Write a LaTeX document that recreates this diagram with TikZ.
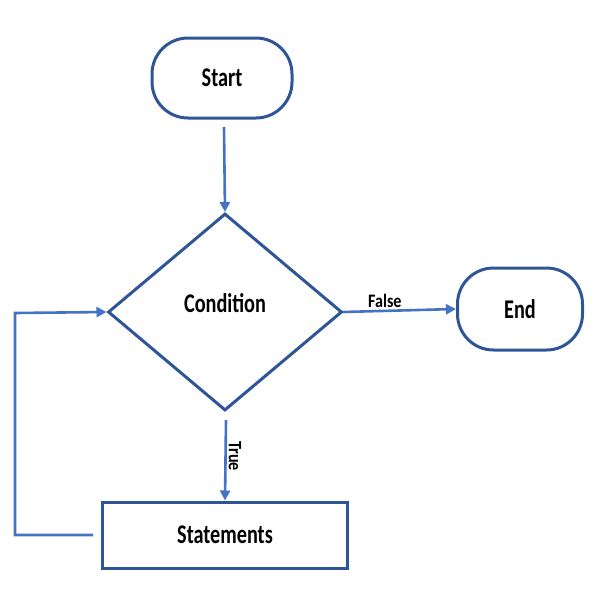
\documentclass[tikz,border=0pt]{standalone}
\usepackage{fontspec}
\setmainfont{Carlito}
\newfontfamily\narrowfont[FakeStretch=0.75]{Carlito}
\newfontfamily\labelfont[FakeStretch=0.85]{Carlito}
\usetikzlibrary{arrows.meta,shapes.geometric}
\definecolor{edgeblue}{HTML}{2F5597}
\definecolor{flowblue}{HTML}{4472C4}
\tikzset{
  bigtext/.style={font=\narrowfont\fontsize{27}{30}\selectfont\bfseries},
  terminal/.style={draw=edgeblue, line width=3pt, rounded corners=36pt,
    minimum width=140pt, minimum height=80pt, bigtext},
  decision/.style={draw=edgeblue, line width=3pt, diamond, aspect=1.2,
    minimum width=234pt, minimum height=197pt, inner sep=0pt},
  process/.style={draw=edgeblue, line width=3pt, rectangle,
    minimum width=245pt, minimum height=66pt, bigtext},
  flow/.style={draw=flowblue, line width=2.6pt, -{Triangle[length=10pt,width=10pt]}},
  lbl/.style={font=\labelfont\fontsize{19}{21}\selectfont\bfseries, inner sep=2pt}
}
\begin{document}
\begin{tikzpicture}[x=1pt,y=-1pt]
\useasboundingbox (0,0) rectangle (600,600);
\node[terminal] (start) at (222,78) {\raisebox{-2pt}{Start}};
\node[decision] (cond) at (225,312) {};
\node[bigtext] (condtext) at (225,303) {Condition};
\node[terminal, minimum width=125pt, minimum height=82pt] (end) at (520,309) {\raisebox{-2pt}{End}};
\node[process] (stmt) at (225,535) {Statements};
\coordinate (sdown) at (224,127);
\coordinate (fstart) at (343,312);
\coordinate (tstart) at (226,420);
\coordinate (lstart) at (93,535);
\coordinate (lcorner1) at (15,535);
\coordinate (lcorner2) at (15,313);
\draw[flow] (sdown) -- (cond.north);
\draw[flow] (fstart) -- (end.west) node[lbl, pos=0.37, above] {False};
\draw[flow] (tstart) -- (stmt.north) node[lbl, pos=0.45, rotate=-90, anchor=south] {True};
\draw[flow] (lstart) -- (lcorner1) -- (lcorner2) -- (cond.west);
\end{tikzpicture}
\end{document}
